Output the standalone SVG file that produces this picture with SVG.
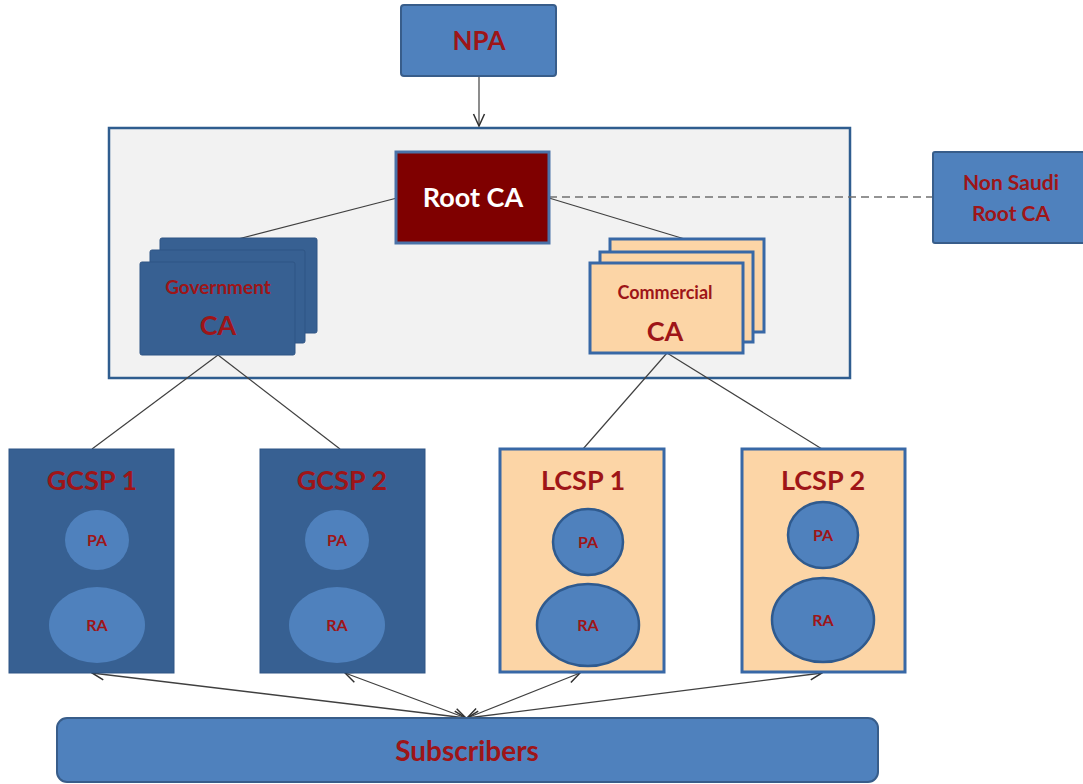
<svg xmlns="http://www.w3.org/2000/svg" width="1083" height="784" viewBox="0 0 1083 784">
  <style>
    .lbl { font-family: Lato, "Liberation Sans", sans-serif; font-weight: bold; fill: #9e1518; text-anchor: middle; }
    .blue { fill: #4f81bd; stroke: #385d8a; stroke-width: 2; }
    .dark { fill: #376092; stroke: #2f5585; stroke-width: 1; }
    .peach { fill: #fcd5a6; stroke: #3868a6; stroke-width: 3; }
    .circ { fill: #4f81bd; }
    .circB { fill: #4f81bd; stroke: #2f5a8e; stroke-width: 2.5; }
    .link { stroke: #404040; stroke-width: 1.2; fill: none; }
    .arr { stroke: #404040; stroke-width: 1.3; fill: none; marker-start: url(#open); marker-end: url(#open); }
  </style>
  <defs>
    <marker id="open" viewBox="0 0 14 14" refX="13" refY="7" markerWidth="14" markerHeight="14" markerUnits="userSpaceOnUse" orient="auto-start-reverse">
      <path d="M1,1.5 L13,7 L1,12.5" fill="none" stroke="#303030" stroke-width="1.5"/>
    </marker>
  </defs>

  <!-- container for root and issuing CAs -->
  <rect id="ca-domain" x="109" y="128" width="741" height="250" fill="#f2f2f2" stroke="#2f5d8f" stroke-width="2.5"/>

  <!-- connectors -->
  <g id="connectors">
    <line class="link" x1="479" y1="76" x2="479" y2="126" marker-end="url(#open)"/>
    <line x1="549" y1="197" x2="933" y2="197" stroke="#707070" stroke-width="1.6" stroke-dasharray="8,5"/>
    <line class="link" x1="397" y1="198" x2="238" y2="239"/>
    <line class="link" x1="549" y1="198" x2="688" y2="240"/>
    <line class="link" x1="218" y1="355" x2="92" y2="449"/>
    <line class="link" x1="218" y1="355" x2="340" y2="449"/>
    <line class="link" x1="667" y1="353" x2="583" y2="449"/>
    <line class="link" x1="667" y1="353" x2="822" y2="449"/>
    <line class="arr" x1="92" y1="673" x2="466" y2="718"/>
    <line class="arr" x1="345" y1="673" x2="466" y2="718"/>
    <line class="arr" x1="580" y1="673" x2="467" y2="718"/>
    <line class="arr" x1="822" y1="673" x2="467" y2="718"/>
  </g>

  <g id="npa">
    <rect class="blue" x="401" y="5" width="155" height="71" rx="3"/>
    <text class="lbl" x="479" y="50" font-size="26">NPA</text>
  </g>

  <g id="root-ca">
    <rect x="396" y="152" width="153" height="91" fill="#7f0000" stroke="#4a72a8" stroke-width="3"/>
    <text class="lbl" x="473" y="207" font-size="27" style="fill:#ffffff">Root CA</text>
  </g>

  <g id="non-saudi-root-ca">
    <rect class="blue" x="933" y="152" width="152" height="91" rx="2"/>
    <text class="lbl" x="1011" y="190" font-size="21">Non Saudi</text>
    <text class="lbl" x="1011" y="221" font-size="21">Root CA</text>
  </g>

  <g id="government-ca">
    <rect class="dark" x="160" y="238" width="157" height="95" rx="2"/>
    <rect class="dark" x="150" y="250" width="155" height="93" rx="2"/>
    <rect class="dark" x="140" y="262" width="155" height="93" rx="2"/>
    <text class="lbl" x="218" y="294" font-size="19">Government</text>
    <text class="lbl" x="218" y="335" font-size="27">CA</text>
  </g>

  <g id="commercial-ca">
    <rect class="peach" x="610" y="239" width="154" height="93"/>
    <rect class="peach" x="600" y="252" width="153" height="90"/>
    <rect class="peach" x="590" y="263" width="153" height="90"/>
    <text class="lbl" x="665" y="299" font-size="18">Commercial</text>
    <text class="lbl" x="665" y="341" font-size="27">CA</text>
  </g>

  <g id="gcsp1">
    <rect class="dark" x="9" y="449" width="165" height="224"/>
    <text class="lbl" x="92" y="490" font-size="27">GCSP 1</text>
    <ellipse class="circ" cx="97" cy="540" rx="32" ry="30"/>
    <text class="lbl" x="97" y="546" font-size="16">PA</text>
    <ellipse class="circ" cx="97" cy="625" rx="48" ry="38"/>
    <text class="lbl" x="97" y="631" font-size="16">RA</text>
  </g>

  <g id="gcsp2">
    <rect class="dark" x="260" y="449" width="165" height="224"/>
    <text class="lbl" x="342" y="490" font-size="27">GCSP 2</text>
    <ellipse class="circ" cx="337" cy="540" rx="32" ry="30"/>
    <text class="lbl" x="337" y="546" font-size="16">PA</text>
    <ellipse class="circ" cx="337" cy="625" rx="48" ry="38"/>
    <text class="lbl" x="337" y="631" font-size="16">RA</text>
  </g>

  <g id="lcsp1">
    <rect class="peach" x="500" y="449" width="164" height="223"/>
    <text class="lbl" x="583" y="490" font-size="27">LCSP 1</text>
    <ellipse class="circB" cx="588" cy="542" rx="35" ry="33"/>
    <text class="lbl" x="588" y="548" font-size="16">PA</text>
    <ellipse class="circB" cx="588" cy="625" rx="51" ry="41"/>
    <text class="lbl" x="588" y="631" font-size="16">RA</text>
  </g>

  <g id="lcsp2">
    <rect class="peach" x="742" y="449" width="163" height="223"/>
    <text class="lbl" x="823" y="490" font-size="27">LCSP 2</text>
    <ellipse class="circB" cx="823" cy="535" rx="35" ry="33"/>
    <text class="lbl" x="823" y="541" font-size="16">PA</text>
    <ellipse class="circB" cx="823" cy="620" rx="51" ry="42"/>
    <text class="lbl" x="823" y="626" font-size="16">RA</text>
  </g>

  <g id="subscribers">
    <rect class="blue" x="57" y="718" width="821" height="64" rx="10"/>
    <text class="lbl" x="467" y="761" font-size="28">Subscribers</text>
  </g>
</svg>
